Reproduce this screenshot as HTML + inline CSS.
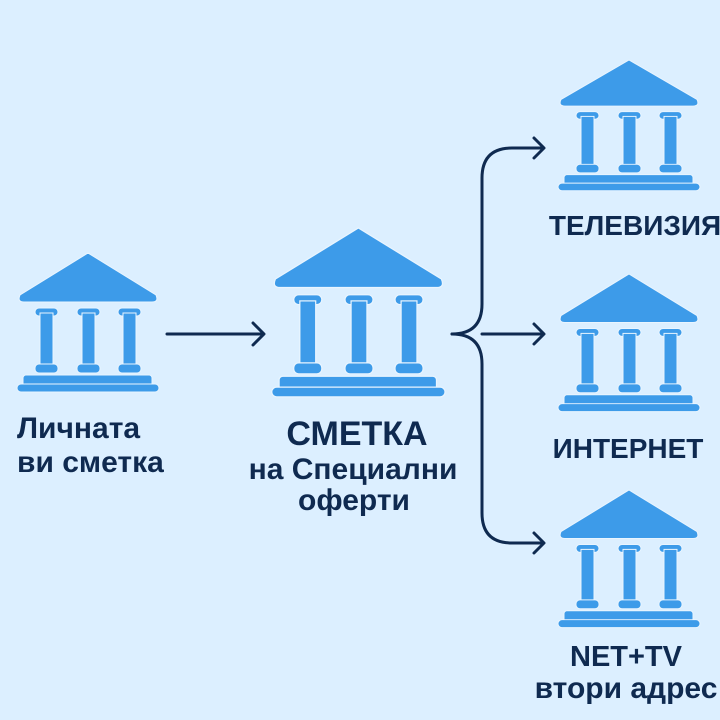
<!DOCTYPE html>
<html><head><meta charset="utf-8">
<style>
html,body{margin:0;padding:0;background:#dcefff;}
body{width:720px;height:720px;overflow:hidden;position:relative;font-family:"Liberation Sans","DejaVu Sans",sans-serif;}
</style></head>
<body>
<svg width="720" height="720" viewBox="0 0 720 720" xmlns="http://www.w3.org/2000/svg" style="position:absolute;left:0;top:0">
<defs>
<g id="bank" fill="#3d9be9" stroke="#e9f5ff" stroke-width="1">
<path d="M70,0 L138,42 Q141,49 134,49 L6,49 Q-1,49 2,42 Z"/>
<rect x="17" y="55" width="23" height="8" rx="4"/>
<rect x="22" y="60" width="13" height="54"/>
<rect x="17" y="111" width="23" height="9" rx="4"/>
<rect x="59" y="55" width="23" height="8" rx="4"/>
<rect x="64" y="60" width="13" height="54"/>
<rect x="59" y="111" width="23" height="9" rx="4"/>
<rect x="100" y="55" width="23" height="8" rx="4"/>
<rect x="105" y="60" width="13" height="54"/>
<rect x="100" y="111" width="23" height="9" rx="4"/>
<rect x="5" y="122" width="129" height="12" rx="3"/>
<rect x="-1" y="131" width="142" height="8" rx="4"/>
</g>
</defs>
<use href="#bank" transform="translate(18,253)"/>
<use href="#bank" transform="translate(273,228) scale(1.22,1.215)"/>
<use href="#bank" transform="translate(559,60) scale(1,0.94)"/>
<use href="#bank" transform="translate(559,274) scale(1,0.99)"/>
<use href="#bank" transform="translate(559,490) scale(1,0.99)"/>

<g fill="none" stroke="#0f2a50" stroke-width="3" stroke-linecap="round" stroke-linejoin="round">
<path d="M167,334 L263,334"/>
<path d="M253,323 L264,334 L253,345"/>
<path d="M452,334 Q482,334 482,304 L482,178 Q482,148 512,148 L543,148"/>
<path d="M452,334 Q482,334 482,364 L482,513 Q482,543 512,543 L543,543"/>
<path d="M482,334 L543,334"/>
<path d="M534,138 L544,148 L534,158"/>
<path d="M534,324 L544,334 L534,344"/>
<path d="M534,533 L544,543 L534,553"/>
</g>

<g fill="#0f2a50" font-family="Liberation Sans, DejaVu Sans, sans-serif" font-weight="bold">
<text x="17" y="438" font-size="30">Личната</text>
<text x="17" y="472" font-size="30">ви сметка</text>
<text x="357" y="445" font-size="34" text-anchor="middle">СМЕТКА</text>
<text x="353" y="479" font-size="30" text-anchor="middle">на Специални</text>
<text x="354" y="510" font-size="30" text-anchor="middle">оферти</text>
<text x="635" y="235" font-size="28" text-anchor="middle">ТЕЛЕВИЗИЯ</text>
<text x="628" y="458" font-size="28" text-anchor="middle">ИНТЕРНЕТ</text>
<text x="626" y="666" font-size="29" text-anchor="middle">NET+TV</text>
<text x="626" y="698" font-size="30" text-anchor="middle">втори адрес</text>
</g>
</svg>
</body></html>
